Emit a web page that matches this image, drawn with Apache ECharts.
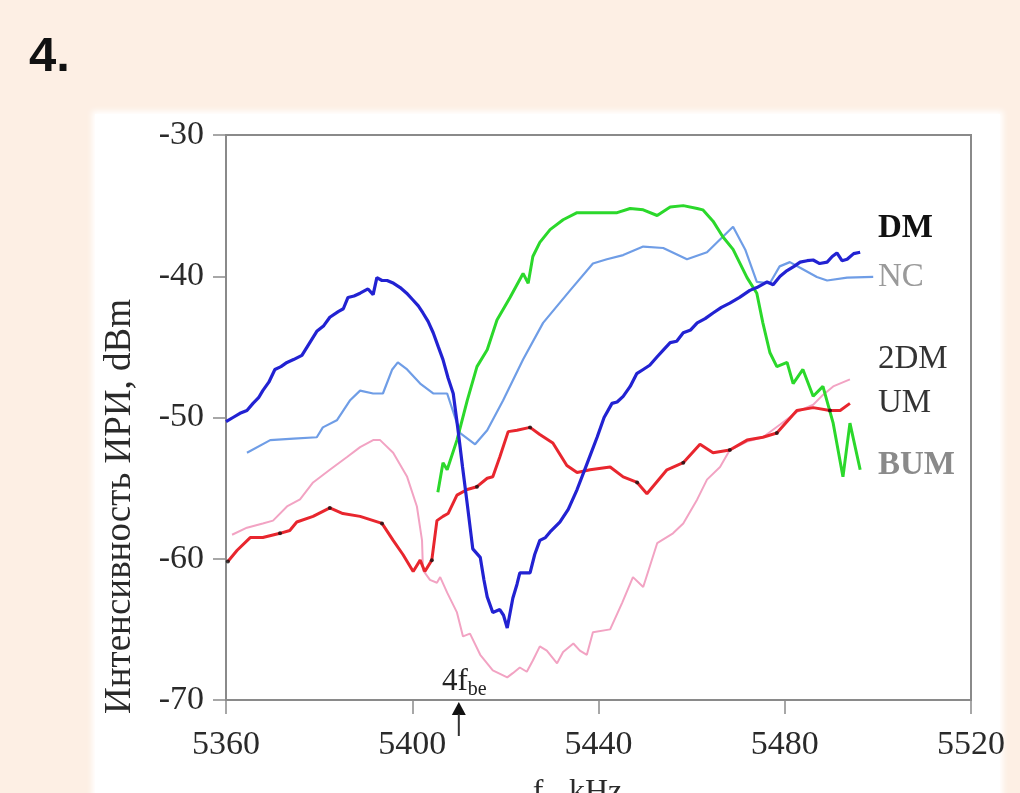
<!DOCTYPE html>
<html><head><meta charset="utf-8">
<script src="https://cdn.jsdelivr.net/npm/echarts@6/dist/echarts.min.js"></script>
<style>
html,body{margin:0;padding:0;width:1020px;height:793px;overflow:hidden;background:#fdefe4;}
#panel{position:absolute;left:95px;top:114px;width:905px;height:700px;background:#fff;box-shadow:0 0 6px 3px #fff;}
#num{position:absolute;left:29px;top:26px;font:bold 49px "Liberation Sans",Arial,sans-serif;color:#111;line-height:56px;}
#chart{position:absolute;left:0;top:0;width:1020px;height:793px;}
</style></head><body>
<div id="panel"></div><div id="num">4.</div><div id="chart"></div>
<script>
// Axis ticks
const freqTicks = [5360, 5400, 5440, 5480, 5520];
const levelTicks = [-70, -60, -50, -40, -30];

// DM – downshifted maximum
const dmFreq = [5360.0,5361.5,5363.0,5364.5,5365.8,5367.0,5367.9,5369.2,5370.5,5371.8,5373.1,5374.5,5376.3,5377.8,5379.5,5381.0,5382.3,5384.1,5385.2,5386.2,5387.5,5388.8,5390.5,5391.6,5392.4,5393.5,5394.6,5396.0,5397.4,5398.8,5400.2,5401.3,5402.3,5403.4,5404.5,5405.6,5406.6,5407.7,5408.8,5409.8,5410.8,5411.8,5413.0,5413.8,5414.6,5415.4,5416.1,5417.3,5418.8,5419.6,5420.4,5421.6,5422.5,5423.1,5425.3,5426.3,5427.4,5428.6,5429.6,5431.7,5433.5,5435.4,5437.5,5439.7,5441.2,5442.9,5444.0,5445.3,5446.8,5448.2,5449.6,5451.0,5452.6,5454.0,5455.4,5456.8,5458.2,5459.8,5461.2,5462.9,5464.6,5466.4,5468.2,5470.3,5472.5,5474.0,5476.2,5477.5,5479.0,5480.5,5482.0,5483.3,5484.8,5486.1,5487.5,5489.1,5490.2,5491.2,5492.3,5493.4,5494.8,5496.2];
const dmLevel = [-50.3,-50.0,-49.7,-49.5,-49.0,-48.6,-48.1,-47.5,-46.6,-46.4,-46.1,-45.9,-45.6,-44.8,-43.9,-43.5,-42.9,-42.5,-42.3,-41.5,-41.4,-41.2,-40.9,-41.3,-40.1,-40.3,-40.3,-40.5,-40.8,-41.2,-41.7,-42.1,-42.6,-43.2,-44.0,-45.0,-45.9,-47.2,-48.3,-50.8,-53.5,-56.1,-59.3,-59.6,-59.9,-61.5,-62.7,-63.8,-63.6,-64.0,-64.9,-62.8,-61.8,-61.0,-61.0,-59.7,-58.7,-58.5,-58.1,-57.4,-56.5,-55.1,-53.3,-51.4,-50.0,-49.0,-48.9,-48.5,-47.8,-46.9,-46.6,-46.3,-45.7,-45.2,-44.7,-44.6,-44.0,-43.8,-43.3,-43.0,-42.6,-42.2,-41.9,-41.5,-41.0,-40.8,-40.4,-40.6,-40.0,-39.6,-39.3,-39.0,-38.9,-38.85,-39.1,-39.0,-38.6,-38.35,-38.9,-38.8,-38.4,-38.3];

// NC – continuum
const ncFreq = [5364.5,5369.5,5374.5,5379.5,5380.8,5383.8,5386.6,5388.8,5391.6,5393.7,5395.7,5396.9,5398.9,5401.7,5404.5,5407.5,5410.3,5413.5,5416.1,5419.5,5423.8,5428.1,5433.9,5438.8,5441.8,5445.3,5449.6,5453.9,5459.0,5463.3,5466.7,5468.9,5471.5,5474.0,5476.8,5478.9,5481.1,5483.3,5486.9,5489.1,5493.4,5499.0];
const ncLevel = [-52.5,-51.6,-51.5,-51.4,-50.7,-50.2,-48.8,-48.1,-48.3,-48.3,-46.6,-46.1,-46.6,-47.6,-48.3,-48.3,-51.1,-51.9,-50.9,-48.8,-45.9,-43.3,-41.0,-39.1,-38.8,-38.5,-37.9,-38.0,-38.8,-38.3,-37.2,-36.5,-38.1,-40.4,-40.5,-39.3,-39.0,-39.4,-40.05,-40.3,-40.1,-40.05];

// BUM – broad upshifted maximum
const bumFreq = [5405.5,5406.6,5407.5,5409.6,5411.8,5413.9,5416.1,5418.2,5421.0,5423.8,5424.9,5425.9,5427.4,5429.6,5432.4,5435.4,5439.7,5444.0,5446.8,5449.6,5452.6,5455.4,5458.2,5461.2,5462.4,5464.6,5466.7,5468.9,5471.9,5474.0,5475.3,5476.8,5478.3,5480.5,5481.8,5483.9,5486.1,5488.2,5490.4,5492.5,5494.0,5496.2];
const bumLevel = [-55.3,-53.2,-53.7,-51.6,-48.8,-46.4,-45.2,-43.1,-41.5,-39.8,-40.5,-38.6,-37.6,-36.7,-36.0,-35.5,-35.5,-35.5,-35.2,-35.3,-35.7,-35.1,-35.0,-35.2,-35.3,-36.1,-37.2,-38.1,-40.1,-41.2,-43.3,-45.4,-46.4,-46.1,-47.6,-46.6,-48.5,-47.8,-50.4,-54.2,-50.4,-53.7];

// UM – upper maximum
const umFreq = [5360.4,5362.4,5365.2,5367.9,5371.6,5373.7,5375.2,5378.7,5382.3,5385.1,5388.8,5393.5,5395.9,5398.0,5400.2,5401.7,5402.7,5404.2,5405.3,5406.6,5407.7,5409.6,5411.8,5413.9,5416.1,5417.3,5418.8,5420.6,5422.5,5425.3,5427.4,5430.2,5433.2,5435.4,5438.2,5442.5,5445.3,5448.3,5450.4,5454.7,5458.2,5461.8,5464.6,5468.2,5471.9,5475.3,5478.3,5482.6,5486.1,5489.7,5491.9,5494.0];
const umLevel = [-60.2,-59.4,-58.5,-58.5,-58.2,-58.0,-57.4,-57.0,-56.4,-56.8,-57.0,-57.5,-58.7,-59.7,-60.9,-60.1,-60.9,-60.1,-57.3,-57.0,-56.8,-55.5,-55.1,-54.9,-54.3,-54.2,-52.8,-51.0,-50.9,-50.7,-51.2,-51.8,-53.4,-53.9,-53.7,-53.5,-54.2,-54.6,-55.4,-53.7,-53.2,-51.9,-52.5,-52.3,-51.6,-51.4,-51.1,-49.5,-49.3,-49.5,-49.5,-49.0];
// points of the UM record shown with a dot
const umDotIdx = [0, 4, 8, 11, 17, 23, 29, 37, 40, 43, 46, 49];

// 2DM – second downshifted maximum
const dm2Freq = [5361.3,5364.5,5367.9,5370.1,5373.1,5375.9,5378.7,5382.3,5386.0,5388.8,5391.6,5393.1,5395.9,5398.9,5401.0,5402.1,5402.3,5403.8,5405.3,5406.0,5407.5,5409.6,5410.9,5412.4,5414.6,5417.3,5420.4,5421.6,5423.1,5424.6,5425.9,5427.4,5428.9,5431.1,5432.4,5434.6,5436.0,5437.5,5438.8,5442.5,5445.1,5447.4,5449.6,5452.6,5456.0,5458.2,5461.2,5463.3,5466.1,5468.2,5471.9,5475.3,5479.0,5482.6,5486.1,5488.2,5490.4,5494.0];
const dm2Level = [-58.3,-57.8,-57.5,-57.3,-56.3,-55.8,-54.6,-53.7,-52.8,-52.1,-51.6,-51.6,-52.5,-54.2,-56.3,-58.7,-60.8,-61.5,-61.7,-61.3,-62.4,-63.8,-65.5,-65.3,-66.8,-67.9,-68.4,-68.1,-67.7,-68.0,-67.2,-66.2,-66.5,-67.4,-66.6,-66.0,-66.5,-66.8,-65.2,-65.0,-63.1,-61.3,-62.0,-58.9,-58.2,-57.5,-55.8,-54.4,-53.5,-52.3,-51.7,-51.4,-50.5,-49.6,-49.1,-48.4,-47.8,-47.3];

const zip = (xs, ys) => xs.map((x, i) => [x, ys[i]]);
const serif = '"Liberation Serif","Times New Roman",serif';

const chart = echarts.init(document.getElementById('chart'), null, {renderer: 'canvas'});

function line(name, xs, ys, color, width, z) {
  return {
    name, type: 'line', data: zip(xs, ys), showSymbol: false, symbol: 'none',
    lineStyle: {color, width}, z, animation: false
  };
}

chart.setOption({
  animation: false,
  grid: {left: 226, right: 49, top: 135, bottom: 93, containLabel: false, outerBoundsMode: 'none',
    show: true, borderColor: '#8a8a8a', borderWidth: 2, backgroundColor: 'transparent'},
  xAxis: {
    type: 'value', min: freqTicks[0], max: freqTicks[freqTicks.length - 1], interval: 40,
    axisLine: {lineStyle: {color: '#8a8a8a', width: 2}},
    axisTick: {length: 14, lineStyle: {color: '#8a8a8a', width: 1.5}},
    splitLine: {show: false},
    axisLabel: {margin: 28, fontSize: 34, fontFamily: serif, color: '#2a2a2a', formatter: v => String(v)}
  },
  yAxis: {
    type: 'value', min: levelTicks[0], max: levelTicks[levelTicks.length - 1], interval: 10,
    axisLine: {show: true, lineStyle: {color: '#8a8a8a', width: 2}},
    axisTick: {show: true, length: 13, lineStyle: {color: '#8a8a8a', width: 1.5}},
    splitLine: {show: false},
    axisLabel: {margin: 22, fontSize: 34, fontFamily: serif, color: '#2a2a2a', formatter: v => String(v)}
  },
  series: [
    line('2DM', dm2Freq, dm2Level, '#f2a3c3', 2, 2),
    line('NC', ncFreq, ncLevel, '#6f9de6', 2.2, 3),
    line('BUM', bumFreq, bumLevel, '#2bd82b', 3, 4),
    line('UM', umFreq, umLevel, '#e8262e', 3, 5),
    {
      name: 'UM dots', type: 'scatter', z: 6, symbolSize: 4, animation: false,
      itemStyle: {color: '#111'},
      data: umDotIdx.map(i => [umFreq[i], umLevel[i]])
    },
    line('DM', dmFreq, dmLevel, '#2222d2', 3.2, 7)
  ]
});

// Curve names, axis titles and the 4f_be marker, placed through the chart's own scales
const px = p => chart.convertToPixel({gridIndex: 0}, p);
const names = [
  {t: 'DM', at: [5500, -36.6], c: '#111', w: 'bold'},
  {t: 'NC', at: [5500, -40.1], c: '#9a9a9a', w: 'normal'},
  {t: '2DM', at: [5500, -45.9], c: '#333', w: 'normal'},
  {t: 'UM', at: [5500, -49.0], c: '#333', w: 'normal'},
  {t: 'BUM', at: [5500, -53.4], c: '#8a8a8a', w: 'bold'}
];
const graphics = names.map(n => {
  const p = px(n.at);
  return {type: 'text', x: p[0], y: p[1], z: 20,
    style: {text: n.t, fill: n.c, fontSize: 33, fontWeight: n.w, fontFamily: serif, textAlign: 'left', textVerticalAlign: 'middle'}};
});
const yTitle = px([freqTicks[0], -56.3]);
graphics.push({type: 'text', x: yTitle[0] - 106, y: yTitle[1], rotation: Math.PI / 2, z: 20,
  style: {text: 'Интенсивность ИРИ, dBm', fill: '#2a2a2a', fontSize: 37, fontFamily: serif, textAlign: 'center', textVerticalAlign: 'middle'}});
const xTitle = px([5435.5, levelTicks[0]]);
graphics.push({type: 'text', x: xTitle[0], y: xTitle[1] + 93, z: 20,
  style: {text: 'f{s|0}, kHz', fill: '#2a2a2a', fontSize: 32, fontFamily: serif, textAlign: 'center', textVerticalAlign: 'middle',
    rich: {s: {fontSize: 19, fontFamily: serif, fill: '#2a2a2a', verticalAlign: 'bottom', padding: [16, 0, 0, 0]}}}});
const fbe = 5410;
const tip = px([fbe, -70]);
graphics.push({type: 'polygon', z: 20, shape: {points: [[tip[0], tip[1] + 2], [tip[0] - 7, tip[1] + 15], [tip[0] + 7, tip[1] + 15]]}, style: {fill: '#111'}});
graphics.push({type: 'line', z: 20, shape: {x1: tip[0], y1: tip[1] + 14, x2: tip[0], y2: tip[1] + 36}, style: {stroke: '#333', lineWidth: 2}});
const lab = px([fbe + 1.2, -68.7]);
graphics.push({type: 'text', x: lab[0], y: lab[1], z: 20,
  style: {text: '4f{s|be}', fontSize: 31, fontFamily: serif, fill: '#222', textAlign: 'center', textVerticalAlign: 'middle',
    rich: {s: {fontSize: 20, fontFamily: serif, fill: '#222', verticalAlign: 'bottom', padding: [17, 0, 0, 0]}}}});
chart.setOption({graphic: graphics});
</script>
</body></html>
